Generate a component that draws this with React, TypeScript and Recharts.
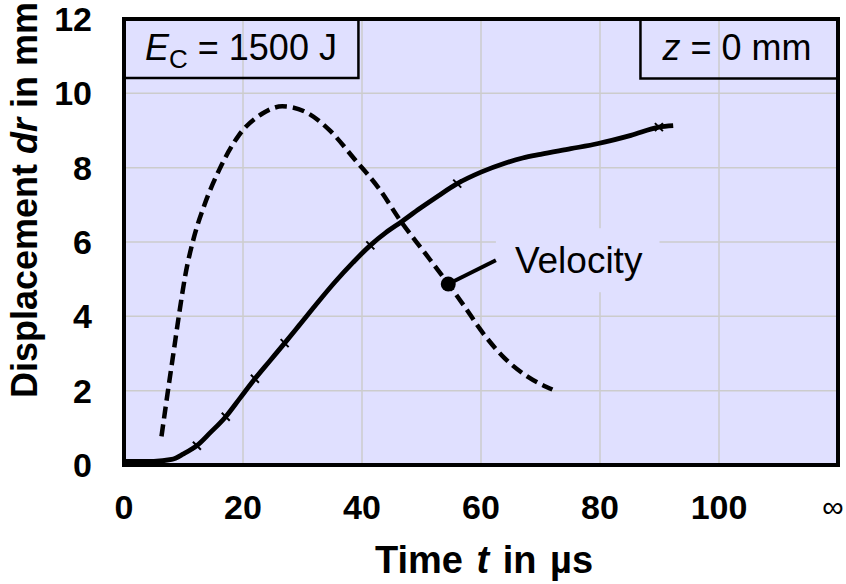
import React from 'react';
import {
  ComposedChart,
  Line,
  Scatter,
  XAxis,
  YAxis,
  CartesianGrid,
  ReferenceArea,
  ReferenceDot,
  ReferenceLine,
} from 'recharts';

// Displacement curve (solid)
const dispTime = [0, 5, 8, 10, 12.25, 14.5, 17.1, 19.5, 22, 24.5, 27, 29.4, 32.7, 35.5, 38.5, 41.4, 44, 46.6, 49.7, 52.8, 56, 60, 64, 67, 70, 75.1, 79.7, 85.2, 89.9, 92.3];
const dispValue = [0.1, 0.1, 0.15, 0.3, 0.52, 0.87, 1.3, 1.8, 2.32, 2.8, 3.28, 3.75, 4.4, 4.93, 5.45, 5.91, 6.25, 6.54, 6.9, 7.24, 7.57, 7.88, 8.12, 8.26, 8.36, 8.51, 8.65, 8.87, 9.09, 9.13];

// Measurement markers on the displacement curve
const markerTime = [12.25, 17.1, 22, 27, 41.4, 56, 89.9];
const markerValue = [0.52, 1.3, 2.32, 3.28, 5.91, 7.57, 9.09];

// Velocity curve (dashed)
const velTime = [6.3, 7.3, 8.3, 9.3, 10.3, 11.8, 13.5, 16, 19.3, 23.2, 26.6, 30.5, 34.4, 38.9, 42.8, 46.6, 50.6, 54.5, 57.3, 60, 64, 67.9, 72];
const velValue = [0.77, 1.9, 3.0, 4.1, 5.1, 6.15, 6.99, 7.94, 8.87, 9.45, 9.65, 9.5, 9.03, 8.2, 7.45, 6.54, 5.7, 4.87, 4.25, 3.62, 2.87, 2.37, 2.03];

const xTicks = [0, 20, 40, 60, 80, 100, 120];
const xTickLabels = ['0', '20', '40', '60', '80', '100', '∞'];
const yTicks = [0, 2, 4, 6, 8, 10, 12];

const dispData = dispTime.map((t, i) => ({ t, d: dispValue[i] }));
const markerData = markerTime.map((t, i) => ({ t, d: markerValue[i] }));
const velData = velTime.map((t, i) => ({ t, v: velValue[i] }));

const FONT = '"Liberation Sans", Arial, sans-serif';
const BG = '#E0E0FF';

const XTick = (props: any) => {
  const { x, y, payload } = props;
  const idx = xTicks.indexOf(payload.value);
  const label = idx >= 0 ? xTickLabels[idx] : String(payload.value);
  if (label === '∞') {
    return (
      <text x={x - 5} y={y + 52} textAnchor="middle" fontFamily={FONT} fontSize={30} fill="#000">
        {label}
      </text>
    );
  }
  return (
    <text x={x} y={y + 54} textAnchor="middle" fontFamily={FONT} fontSize={34} fontWeight="bold" fill="#000">
      {label}
    </text>
  );
};

const YTick = (props: any) => {
  const { x, y, payload } = props;
  return (
    <text x={x - 32} y={y + 12} textAnchor="end" fontFamily={FONT} fontSize={34} fontWeight="bold" fill="#000">
      {payload.value}
    </text>
  );
};

const XTitle = (props: any) => {
  const vb = props.viewBox || {};
  const cx = vb.x + vb.width / 2 + 3;
  return (
    <text
      x={cx}
      y={573}
      textAnchor="middle"
      fontFamily={FONT}
      fontSize={38}
      fontWeight="bold"
      wordSpacing={3}
      fill="#000"
    >
      Time <tspan fontStyle="italic">t</tspan> in µs
    </text>
  );
};

const YTitle = (props: any) => {
  const vb = props.viewBox || {};
  const cx = 37;
  const cy = vb.y + vb.height / 2 - 42;
  return (
    <text
      x={cx}
      y={cy}
      transform={`rotate(-90, ${cx}, ${cy})`}
      textAnchor="middle"
      fontFamily={FONT}
      fontSize={36}
      fontWeight="bold"
      fill="#000"
    >
      Displacement <tspan fontStyle="italic">dr</tspan> in mm
    </text>
  );
};

const EnergyLabel = (props: any) => {
  const vb = props.viewBox || {};
  return (
    <text x={vb.x + 21} y={vb.y + 41} fontFamily={FONT} fontSize={36} fill="#000">
      <tspan fontStyle="italic">E</tspan>
      <tspan fontSize={26} dy={8}>C</tspan>
      <tspan dy={-8}> = 1500 J</tspan>
    </text>
  );
};

const PositionLabel = (props: any) => {
  const vb = props.viewBox || {};
  return (
    <text x={vb.x + 22} y={vb.y + 41} fontFamily={FONT} fontSize={36} fill="#000">
      <tspan fontStyle="italic">z</tspan> = 0 mm
    </text>
  );
};

const VelocityLabel = (props: any) => {
  const vb = props.viewBox || {};
  return (
    <text x={vb.x + 19} y={vb.y + 45} fontFamily={FONT} fontSize={37} fill="#000">
      Velocity
    </text>
  );
};

const Cross = (props: any) => {
  const { cx, cy } = props;
  const s = 4;
  return (
    <path
      d={`M${cx - s},${cy - s}L${cx + s},${cy + s}M${cx - s},${cy + s}L${cx + s},${cy - s}`}
      stroke="#000"
      strokeWidth={2}
      fill="none"
    />
  );
};

export default function App() {
  return (
    <div style={{ position: 'absolute', left: 0, top: 0, background: '#fff' }}>
      <ComposedChart
        width={846}
        height={584}
        margin={{ top: 19, right: 8, bottom: 0, left: 0 }}
      >
        <CartesianGrid fill={BG} stroke="#CCCCCC" strokeWidth={1.5} />
        <XAxis
          type="number"
          dataKey="t"
          domain={[0, 120]}
          ticks={xTicks}
          allowDataOverflow
          axisLine={false}
          tickLine={false}
          tickSize={0}
          tickMargin={0}
          height={119}
          tick={<XTick />}
          interval={0}
          label={<XTitle />}
        />
        <YAxis
          type="number"
          domain={[0, 12]}
          ticks={yTicks}
          allowDataOverflow
          axisLine={false}
          tickLine={false}
          tickSize={0}
          tickMargin={0}
          width={124}
          tick={<YTick />}
          interval={0}
          label={<YTitle />}
        />
        <ReferenceArea
          x1={62.5}
          x2={90}
          y1={4.65}
          y2={6.37}
          fill={BG}
          fillOpacity={1}
          stroke="none"
          label={<VelocityLabel />}
        />
        <Line
          data={velData}
          dataKey="v"
          type="monotone"
          stroke="#000"
          strokeWidth={4.5}
          strokeDasharray="12 6"
          dot={false}
          activeDot={false}
          isAnimationActive={false}
        />
        <Line
          data={dispData}
          dataKey="d"
          type="monotone"
          stroke="#000"
          strokeWidth={4.8}
          dot={false}
          activeDot={false}
          isAnimationActive={false}
        />
        <Scatter
          data={markerData}
          dataKey="d"
          shape={<Cross />}
          isAnimationActive={false}
        />
        <ReferenceLine
          segment={[{ x: 54.5, y: 4.87 }, { x: 62.5, y: 5.51 }]}
          stroke="#000"
          strokeWidth={4}
        />
        <ReferenceDot x={54.5} y={4.87} r={7.5} fill="#000" stroke="none" />
        <ReferenceArea
          x1={0}
          x2={39.4}
          y1={10.41}
          y2={12}
          fill="none"
          stroke="#000"
          strokeWidth={2.5}
          label={<EnergyLabel />}
        />
        <ReferenceArea
          x1={86.8}
          x2={120}
          y1={10.4}
          y2={12}
          fill="none"
          stroke="#000"
          strokeWidth={2.5}
          label={<PositionLabel />}
        />
        <ReferenceArea
          x1={0}
          x2={120}
          y1={0}
          y2={12}
          fill="none"
          stroke="#000"
          strokeWidth={4}
        />
      </ComposedChart>
    </div>
  );
}
